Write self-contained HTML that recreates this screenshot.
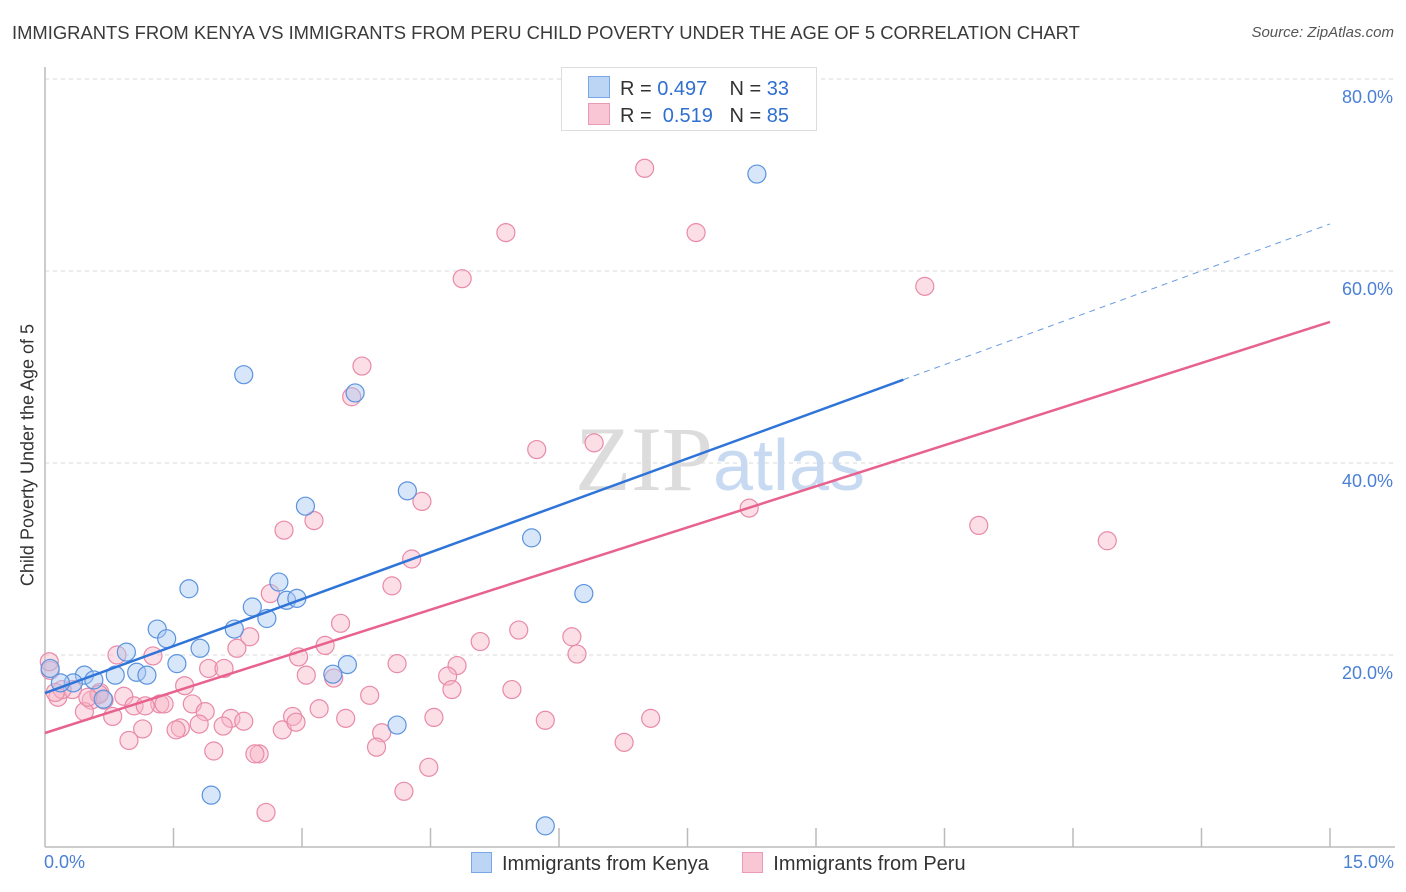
<!DOCTYPE html>
<html><head><meta charset="utf-8"><style>
body{margin:0;background:#fff;font-family:"Liberation Sans",sans-serif;}
#wrap{position:relative;width:1406px;height:892px;overflow:hidden;}
.t{position:absolute;white-space:nowrap;}
</style></head><body>
<div id="wrap">
<div class="t" style="left:12px;top:22px;font-size:18.4px;color:#3a3a3a;">IMMIGRANTS FROM KENYA VS IMMIGRANTS FROM PERU CHILD POVERTY UNDER THE AGE OF 5 CORRELATION CHART</div>
<div class="t" style="right:12px;top:24px;font-size:15px;color:#555;font-style:italic;">Source: ZipAtlas.com</div>
<svg id="svg" width="1406" height="892" style="position:absolute;left:0;top:0"></svg>
</div>
<script>
const xTicks=[0,1.5,3,4.5,6,7.5,9,10.5,12,13.5,15];
const yTicks=[20,40,60,80];
const yTickLabels=["20.0%","40.0%","60.0%","80.0%"];
const kenyaX=[8.31,2.32,3.62,3.04,4.23,5.68,6.29,1.68,2.73,2.42,2.82,2.94,2.59,2.21,1.31,1.42,0.95,1.81,1.54,3.53,3.36,1.07,1.19,0.82,0.46,0.57,0.33,0.18,0.68,0.06,4.11,1.94,5.84];
const kenyaY=[70.1,49.2,47.3,35.5,37.1,32.2,26.4,26.9,27.6,25.0,25.7,25.9,23.8,22.7,22.7,21.7,20.3,20.7,19.1,19.0,18.0,18.2,17.9,17.9,17.9,17.4,17.1,17.1,15.4,18.6,12.7,5.4,2.2];
const peruX=[7.00,5.38,7.60,4.87,10.27,3.70,3.58,5.74,6.41,4.40,8.22,3.14,2.79,10.90,12.40,4.28,4.05,2.63,3.45,5.53,2.39,5.08,6.15,6.21,3.27,2.24,1.26,0.84,2.96,4.11,4.81,1.91,2.09,3.05,4.70,3.37,1.63,4.75,5.45,0.64,0.92,3.79,0.15,0.32,0.54,0.69,1.34,1.04,1.17,1.39,1.72,3.20,1.87,0.79,0.46,4.54,3.51,2.89,2.17,2.32,7.07,5.84,2.08,1.80,1.58,1.53,2.77,2.93,3.93,1.14,0.98,1.97,2.50,2.45,3.87,6.76,4.48,4.19,2.58,0.06,0.05,0.20,0.63,0.12,0.50];
const peruY=[70.7,64.0,64.0,59.2,58.4,50.1,46.9,41.4,42.1,36.0,35.3,34.0,33.0,33.5,31.9,30.0,27.2,26.4,23.3,22.6,21.9,21.4,21.9,20.1,21.0,20.7,19.9,20.0,19.8,19.1,18.9,18.6,18.6,17.9,17.8,17.6,16.8,16.4,16.4,16.1,15.7,15.8,15.6,16.4,15.3,15.3,14.9,14.7,14.7,14.9,14.9,14.4,14.1,13.6,14.1,13.5,13.4,13.6,13.4,13.1,13.4,13.2,12.6,12.8,12.4,12.2,12.2,13.0,11.9,12.3,11.1,10.0,9.7,9.7,10.4,10.9,8.3,5.8,3.6,18.4,19.3,16.4,15.9,16.1,15.6];
const kenyaLine=[16.04,64.9], kenyaSolidEnd=10.02;
const peruLine=[11.875,54.7];
const X0=45,X1=1330,Y0=847,PPY=9.6;
const sx=v=>X0+(X1-X0)*v/15, sy=v=>Y0-v*PPY;
const svg=document.getElementById('svg');const NS='http://www.w3.org/2000/svg';
function mk(tag,attrs,parent){const e=document.createElementNS(NS,tag);for(const k in attrs)e.setAttribute(k,attrs[k]);(parent||svg).appendChild(e);return e;}
yTicks.forEach((v,i)=>{
 const g=mk('line',{x1:X0,x2:1395,y1:sy(v),y2:sy(v),stroke:'#d8d8d8','stroke-dasharray':'4,4'});
 
 
 const t=mk('text',{x:1393,y:sy(v)+24,'text-anchor':'end','font-size':18,fill:'#4a7fd4','font-family':'Liberation Sans'});
 t.textContent=yTickLabels[i];
 
 
});
const topLine=mk('line',{x1:X0,x2:1395,y1:79,y2:79,stroke:'#d8d8d8','stroke-dasharray':'4,4'});


const ya=mk('line',{x1:X0,x2:X0,y1:67,y2:Y0,stroke:'#bbb','stroke-width':1.5});


const xa=mk('line',{x1:X0,x2:1395,y1:Y0,y2:Y0,stroke:'#bbb','stroke-width':1.5});


xTicks.forEach(v=>{if(v===0)return;const l=mk('line',{x1:sx(v),x2:sx(v),y1:828,y2:Y0,stroke:'#bbb','stroke-width':1.5});
 
 });
const wm=mk('text',{x:720,y:490,'text-anchor':'middle','font-size':92});
wm.innerHTML='<tspan font-family="Liberation Serif" fill="#dcdcdc">ZIP</tspan><tspan font-family="Liberation Sans" fill="#c8daf2" font-size="72">atlas</tspan>';


function pts(xs,ys,fill,stroke,name){xs.forEach((x,i)=>{const c=mk('circle',{cx:sx(x),cy:sy(ys[i]),r:9,fill:fill,stroke:stroke,'stroke-width':1.2,'fill-opacity':0.45});
 
 });}
pts(peruX,peruY,'#f7b6c8','#e98aa8','peru-point');
pts(kenyaX,kenyaY,'#a9c8f2','#5b93df','kenya-point');
const pl=mk('line',{x1:sx(0),y1:sy(peruLine[0]),x2:sx(15),y2:sy(peruLine[1]),stroke:'#e8628f','stroke-width':2.5});


const ky=v=>kenyaLine[0]+(kenyaLine[1]-kenyaLine[0])*v/15;
const kl=mk('line',{x1:sx(0),y1:sy(ky(0)),x2:sx(kenyaSolidEnd),y2:sy(ky(kenyaSolidEnd)),stroke:'#2f74d8','stroke-width':2.5});


const kd=mk('line',{x1:sx(kenyaSolidEnd),y1:sy(ky(kenyaSolidEnd)),x2:sx(15),y2:sy(ky(15)),stroke:'#6a9be0','stroke-width':1,'stroke-dasharray':'6,5'});


</script>
<div class="t" style="left:28px;top:455px;font-size:18px;color:#333;transform:translate(-50%,-50%) rotate(-90deg);">Child Poverty Under the Age of 5</div>
<div class="t" style="left:44px;top:852px;font-size:18px;color:#4a7fd4;">0.0%</div>
<div class="t" style="right:12px;top:852px;font-size:18px;color:#4a7fd4;">15.0%</div>
<div style="position:absolute;left:561px;top:67px;width:254px;height:62px;border:1px solid #ddd;background:#fff;font-size:20px;color:#333;">
 <div style="position:absolute;left:26px;top:8px;white-space:nowrap;"><span style="display:inline-block;width:20px;height:20px;background:#bcd5f5;border:1px solid #7aa7e6;vertical-align:-3px;margin-right:10px"></span>R = <span style="color:#2f6fd0">0.497</span>&nbsp;&nbsp;&nbsp; N = <span style="color:#2f6fd0">33</span></div>
 <div style="position:absolute;left:26px;top:35px;white-space:nowrap;"><span style="display:inline-block;width:20px;height:20px;background:#f9c6d5;border:1px solid #eb9ab4;vertical-align:-3px;margin-right:10px"></span>R = &nbsp;<span style="color:#2f6fd0">0.519</span>&nbsp;&nbsp; N = <span style="color:#2f6fd0">85</span></div>
</div>
<div style="position:absolute;left:471px;top:852px;font-size:20px;color:#333;white-space:nowrap;">
 <span><span style="display:inline-block;width:19px;height:19px;background:#bcd5f5;border:1px solid #7aa7e6;vertical-align:-3px;margin-right:10px"></span>Immigrants from Kenya</span>
 <span style="margin-left:28px"><span style="display:inline-block;width:19px;height:19px;background:#f9c6d5;border:1px solid #eb9ab4;vertical-align:-3px;margin-right:10px"></span>Immigrants from Peru</span>
</div>
</body></html>
